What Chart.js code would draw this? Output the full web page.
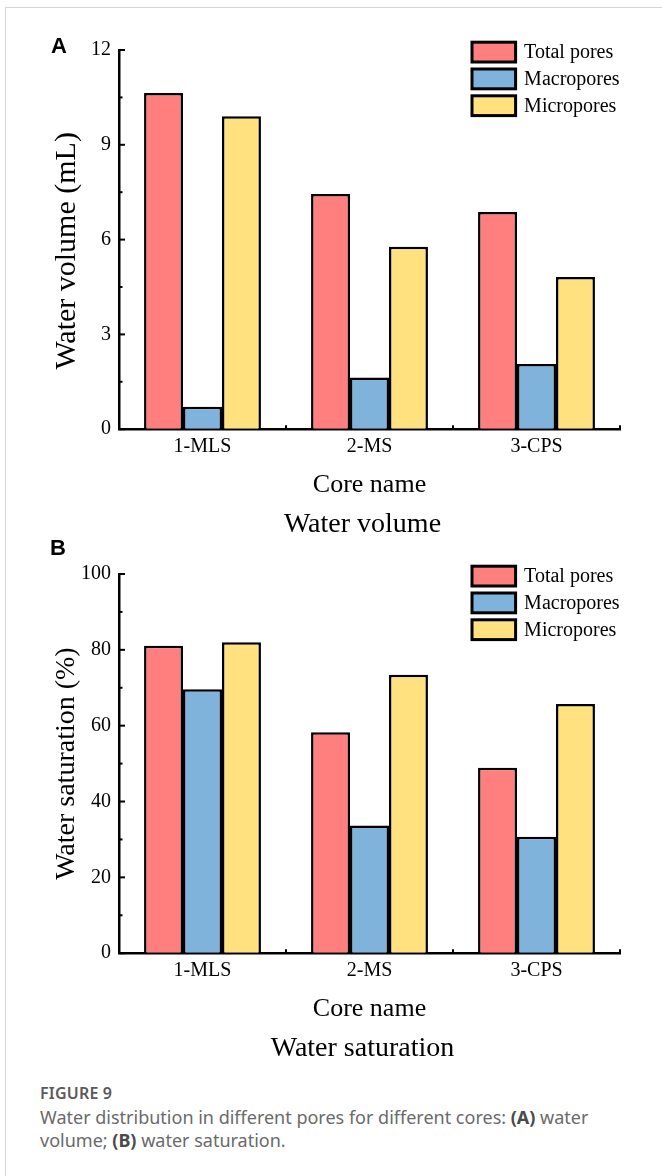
<!DOCTYPE html>
<html>
<head>
<meta charset="utf-8">
<script src="https://cdn.jsdelivr.net/npm/chart.js@4.4.1/dist/chart.umd.min.js"></script>
<style>
  html, body { margin: 0; padding: 0; background: #fff; }
  #page { position: relative; width: 662px; height: 1176px; overflow: hidden; background: #fff; }
  .frame-top { position: absolute; left: 5px; top: 7px; right: 0; height: 1px; background: #d6d6d6; }
  .frame-left { position: absolute; left: 5px; top: 7px; bottom: 0; width: 1px; background: #d6d6d6; }
  canvas { position: absolute; left: 0; }
  .letter { position: absolute; font-family: "Liberation Sans", Arial, sans-serif; font-weight: bold; font-size: 22px; color: #000; line-height: 1; }
  .cap-head { position: absolute; left: 40px; top: 1082px; font-family: "Noto Sans", "Open Sans", sans-serif; font-size: 16px; font-weight: 600; color: #5a5a5a; letter-spacing: 0.2px; }
  .cap-body { position: absolute; left: 40px; top: 1106px; width: 585px; font-family: "Noto Sans", "Open Sans", sans-serif; font-size: 18px; line-height: 23px; color: #6a6a6a; }
  .cap-body b { color: #4a4a4a; font-weight: 700; }
</style>
</head>
<body>
<div id="page">
  <div class="frame-top"></div>
  <div class="frame-left"></div>
  <canvas id="chartA" width="662" height="541" style="top:0px"></canvas>
  <canvas id="chartB" width="662" height="541" style="top:524px"></canvas>
  <div class="letter" style="left:51px; top:35px;">A</div>
  <div class="letter" style="left:50px; top:537px;">B</div>
  <div class="cap-head">FIGURE 9</div>
  <div class="cap-body">Water distribution in different pores for different cores: <b>(A)</b> water volume; <b>(B)</b> water saturation.</div>
</div>
<script>
// ---- data ----
const categories = ['1-MLS', '2-MS', '3-CPS'];
const seriesNames = ['Total pores', 'Macropores', 'Micropores'];
const volumeTotal = [10.64, 7.44, 6.87];
const volumeMacro = [0.71, 1.64, 2.06];
const volumeMicro = [9.90, 5.77, 4.82];
const saturationTotal = [81.1, 58.3, 48.9];
const saturationMacro = [69.6, 33.7, 30.7];
const saturationMicro = [82.0, 73.4, 65.7];
const volumeTickLabels = [0, 3, 6, 9, 12];
const saturationTickLabels = [0, 20, 40, 60, 80, 100];

// ---- styles ----
const SERIF = '"Liberation Serif", "Times New Roman", serif';
const colors = ['#FF7F7F', '#80B3DC', '#FFE180'];

const decor = {
  id: 'decor',
  afterDraw(chart, args, opts) {
    const ctx = chart.ctx;
    const xs = chart.scales.x, ys = chart.scales.y;
    const area = chart.chartArea;
    ctx.save();
    ctx.strokeStyle = '#000';
    ctx.lineWidth = 2;
    // inward y ticks (major + minor)
    ys.ticks.forEach(t => {
      const py = ys.getPixelForValue(t.value);
      const major = opts.major.some(m => Math.abs(m - t.value) < 1e-6);
      const len = major ? 6 : 3.5;
      ctx.beginPath();
      ctx.moveTo(area.left, py);
      ctx.lineTo(area.left + len, py);
      ctx.stroke();
    });
    // inward x ticks at category boundaries
    const n = xs.ticks.length;
    for (let i = 1; i <= n; i++) {
      const px = i < n ? (xs.getPixelForValue(i - 1) + xs.getPixelForValue(i)) / 2 : area.right;
      ctx.beginPath();
      ctx.moveTo(px, area.bottom);
      ctx.lineTo(px, area.bottom - 4);
      ctx.stroke();
    }
    // legend
    const bx = area.right - 148, bw = 43.6, bh = 19.8, gap = 26.8;
    const by0 = area.top - 7.8;
    chart.data.datasets.forEach((ds, i) => {
      const top = by0 + i * gap;
      ctx.fillStyle = ds.backgroundColor;
      ctx.fillRect(bx, top, bw, bh);
      ctx.lineWidth = 3;
      ctx.strokeStyle = '#000';
      ctx.strokeRect(bx, top, bw, bh);
      ctx.fillStyle = '#000';
      ctx.font = '20px ' + SERIF;
      ctx.textAlign = 'left';
      ctx.textBaseline = 'middle';
      ctx.fillText(ds.label, bx + bw + 8.5, top + bh / 2 + 1);
    });
    ctx.restore();
  }
};

function makeChart(id, series, yMax, yStep, majorTicks, yTitle, yTitleSize, subtitle) {
  const datasets = series.map((vals, i) => ({
    label: seriesNames[i],
    data: vals,
    backgroundColor: colors[i],
    borderColor: '#000',
    borderWidth: 2.5,
    categoryPercentage: 0.7,
    barPercentage: 1.0
  }));
  return new Chart(document.getElementById(id), {
    type: 'bar',
    data: { labels: categories, datasets },
    plugins: [decor],
    options: {
      responsive: false,
      animation: false,
      events: [],
      layout: { padding: { top: 50, right: 42, left: 0, bottom: 0 } },
      plugins: {
        legend: { display: false },
        tooltip: { enabled: false },
        title: {
          display: true, position: 'bottom', fullSize: false, text: subtitle, color: '#000',
          font: { family: SERIF, size: 28, weight: 'normal', lineHeight: 1.2 },
          padding: { top: 6.6, bottom: 0 }
        },
        decor: { major: majorTicks }
      },
      scales: {
        x: {
          type: 'category', offset: true,
          grid: { display: true, drawOnChartArea: false, drawTicks: false, offset: true },
          border: { display: true, color: '#000', width: 2.5 },
          ticks: { color: '#000', font: { family: SERIF, size: 20, lineHeight: 1.2 }, padding: 6, maxRotation: 0 },
          title: {
            display: true, text: 'Core name', color: '#000',
            font: { family: SERIF, size: 26, lineHeight: 1.2 },
            padding: { top: 10.4, bottom: 0 }
          },
          afterFit(s) { s.height = 71.6; }
        },
        y: {
          min: 0, max: yMax,
          grid: { display: true, drawOnChartArea: false, drawTicks: false },
          border: { display: true, color: '#000', width: 2.5 },
          ticks: {
            stepSize: yStep, autoSkip: false, color: '#000',
            font: { family: SERIF, size: 20, lineHeight: 1.2 }, padding: 8,
            callback: v => majorTicks.some(m => Math.abs(m - v) < 1e-6) ? String(v) : ''
          },
          title: {
            display: true, text: yTitle, color: '#000',
            font: { family: SERIF, size: yTitleSize, lineHeight: 1.2 },
            padding: { top: 50 - (yTitleSize * 0.6 - 16.8), bottom: 0 }
          },
          afterFit(s) { s.width = 119; }
        }
      }
    }
  });
}

makeChart('chartA', [volumeTotal, volumeMacro, volumeMicro], 12, 1.5, volumeTickLabels,
  'Water volume (mL)   ', 30, 'Water volume  ');
makeChart('chartB', [saturationTotal, saturationMacro, saturationMicro], 100, 10, saturationTickLabels,
  'Water saturation (%)', 28, 'Water saturation  ');
</script>
</body>
</html>
